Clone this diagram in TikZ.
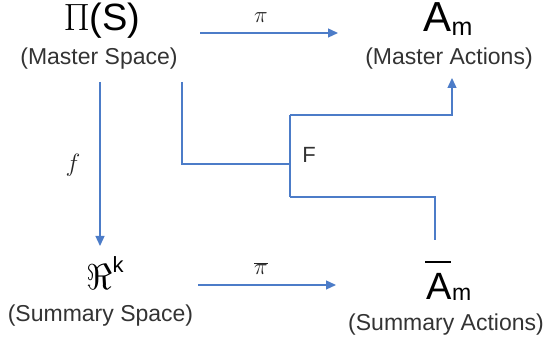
\RequirePackage{fix-cm}
\documentclass[tikz,border=0pt]{standalone}
\usepackage{fontspec}
\setmainfont{Liberation Sans}
\usetikzlibrary{arrows.meta}
\definecolor{linkblue}{RGB}{76,124,200}
\tikzset{
  link/.style={draw=linkblue, line width=1.3pt},
  arrowlink/.style={link, -{Triangle[length=10pt,width=9pt]}},
  sym/.style={inner sep=0pt, anchor=base},
  caption/.style={inner sep=0pt, anchor=base, font=\fontsize{23}{25}\selectfont, text=black!80},
  small/.style={inner sep=0pt, anchor=base, font=\fontsize{23}{25}\selectfont, text=black!85}
}
\newcommand{\bigtxt}[2]{{\fontsize{#1}{#1}\selectfont #2}}
\begin{document}
\begin{tikzpicture}[x=1pt,y=1pt]
  \useasboundingbox (0,0) rectangle (549,344);

  % spaces and action sets
  \node[sym] (ms) at (102,313) {\bigtxt{38}{$\Pi$(S)}};
  \node[caption] (msl) at (99,279) {(Master Space)};
  \node[sym] (am) at (448,312)
    {\bigtxt{42}{A}\raisebox{-4pt}{\bigtxt{25}{m}}};
  \node[caption] (aml) at (449,279) {(Master Actions)};
  \node[sym] (ss) at (105,54)
    {\bigtxt{36}{$\Re$}\raisebox{17pt}{\bigtxt{22}{k}}};
  \node[caption] (ssl) at (100.5,22) {(Summary Space)};
  \node[sym] (sa) at (449,44)
    {\rlap{\hspace{-1.5pt}\raisebox{37pt}{\rule{26pt}{1.6pt}}}\bigtxt{38}{A}\raisebox{-1pt}{\bigtxt{23}{m}}};
  \node[caption] (sal) at (446,13) {(Summary Actions)};

  % arrow labels
  \node[small] (pil) at (261,321) {$\pi$};
  \node[small] (pbl) at (261,69) {$\overline{\pi}$};
  \node[small, font=\fontsize{25}{27}\selectfont] (fl) at (73,172) {$f$};
  \node[caption, font=\fontsize{22}{24}\selectfont] (Fl) at (309,181) {F};

  % arrow end points
  \coordinate (piA) at (200,311);
  \coordinate (piB) at (338,311);
  \coordinate (pbA) at (198,59);
  \coordinate (pbB) at (336,59);
  \coordinate (fA) at (100,262);
  \coordinate (fB) at (100,98);

  % F routing
  \coordinate (Fa) at (182,262);
  \coordinate (Fb) at (182,180);
  \coordinate (Fc) at (290,180);
  \coordinate (Ft) at (290,229);
  \coordinate (Fs) at (290,147);
  \coordinate (Fu) at (452,229);
  \coordinate (Fv) at (452,266);
  \coordinate (Fw) at (435,147);
  \coordinate (Fx) at (435,104);

  \draw[arrowlink] (piA) -- (piB);
  \draw[arrowlink] (pbA) -- (pbB);
  \draw[arrowlink] (fA) -- (fB);

  \draw[link] (Fa) -- (Fb) -- (Fc);
  \draw[link] (Ft) -- (Fs);
  \draw[arrowlink] (Ft) -- (Fu) -- (Fv);
  \draw[link] (Fs) -- (Fw) -- (Fx);
\end{tikzpicture}
\end{document}
